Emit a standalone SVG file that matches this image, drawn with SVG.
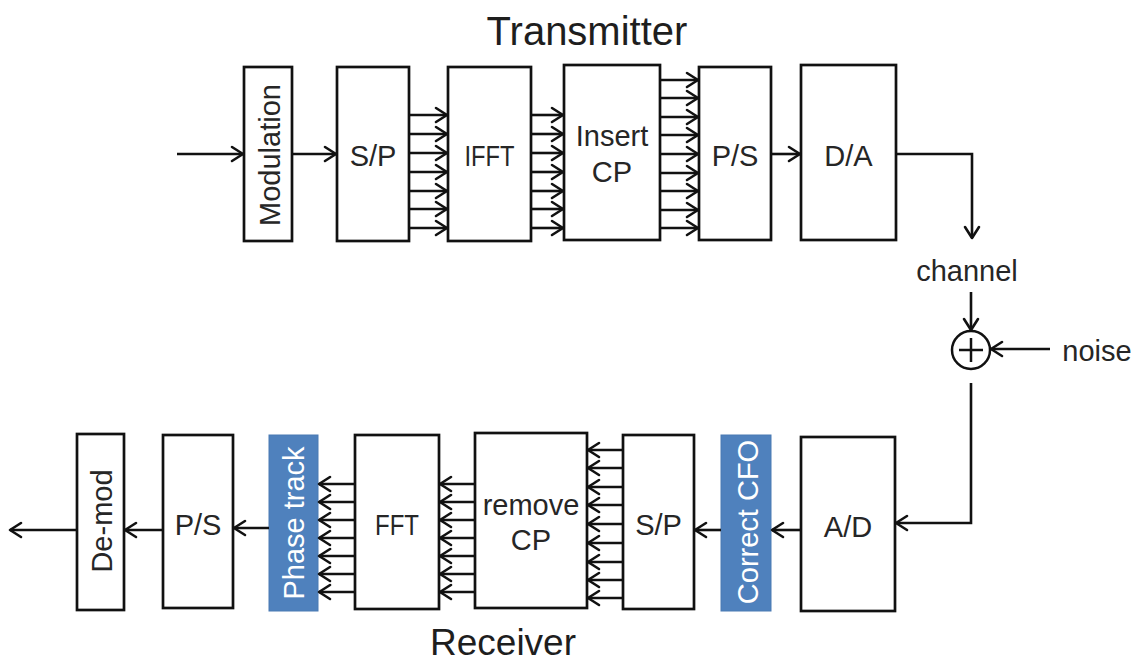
<svg xmlns="http://www.w3.org/2000/svg" width="1137" height="663" viewBox="0 0 1137 663">
<style>
.box{fill:#fff;stroke:#111;stroke-width:2.7}
.blue{fill:#4f81bd;stroke:#4a7ab3;stroke-width:1}
.lbl{font-family:"Liberation Sans",Arial,sans-serif;font-size:29px;fill:#262626;text-anchor:middle}
.wl{font-family:"Liberation Sans",Arial,sans-serif;font-size:29px;fill:#fff;text-anchor:middle}
.ttl{font-family:"Liberation Sans",Arial,sans-serif;fill:#1e1e1e;text-anchor:middle}
.ln{fill:none;stroke:#111;stroke-width:2.5}
.ar{fill:none;stroke:#111;stroke-width:2.6;marker-end:url(#ah)}
</style>
<defs>
<marker id="ah" viewBox="-14 -9 16 18" refX="0" refY="0" markerWidth="16" markerHeight="18" markerUnits="userSpaceOnUse" orient="auto">
<path d="M-11,-7 L0,0 L-11,7" fill="none" stroke="#111" stroke-width="2.6" stroke-linejoin="round" stroke-linecap="round"/>
</marker>
</defs>
<rect width="1137" height="663" fill="#fff"/>

<text class="ttl" x="587" y="45" font-size="40">Transmitter</text>
<text class="ttl" x="503" y="655" font-size="37">Receiver</text>

<!-- Transmitter nodes -->
<g id="modulation"><rect class="box" x="244" y="67" width="48" height="174"/><text class="lbl" transform="translate(280,155) rotate(-90)" x="0" y="0">Modulation</text></g>
<g id="tx-sp"><rect class="box" x="337" y="67" width="72" height="174"/><text class="lbl" x="373" y="166">S/P</text></g>
<g id="ifft"><rect class="box" x="448" y="67" width="83" height="174"/><text class="lbl" x="489.5" y="166" textLength="50" lengthAdjust="spacingAndGlyphs">IFFT</text></g>
<g id="insert-cp"><rect class="box" x="564" y="65" width="96" height="175"/><text class="lbl" x="612" y="146">Insert</text><text class="lbl" x="612" y="182">CP</text></g>
<g id="tx-ps"><rect class="box" x="699" y="67" width="72" height="173"/><text class="lbl" x="735" y="166">P/S</text></g>
<g id="da"><rect class="box" x="801" y="65" width="95" height="175"/><text class="lbl" x="848.5" y="166">D/A</text></g>

<!-- channel / noise -->
<g id="channel"><text class="lbl" x="967" y="281" font-size="29">channel</text></g>
<g id="adder"><circle cx="971" cy="350" r="19" fill="#fff" stroke="#111" stroke-width="2.5"/><path class="ln" d="M959,350 H983 M971,338 V362"/></g>
<g id="noise"><text class="lbl" x="1097" y="361" font-size="28">noise</text></g>

<!-- Receiver nodes -->
<g id="demod"><rect class="box" x="77" y="434" width="47" height="176"/><text class="lbl" transform="translate(112,521) rotate(-90)" x="0" y="0">De-mod</text></g>
<g id="rx-ps"><rect class="box" x="163" y="435" width="70" height="173"/><text class="lbl" x="198" y="535">P/S</text></g>
<g id="phase-track"><rect class="blue" x="269" y="435" width="49" height="176"/><text class="wl" transform="translate(304,523) rotate(-90)" x="0" y="0">Phase track</text></g>
<g id="fft"><rect class="box" x="355" y="435" width="84" height="174"/><text class="lbl" x="397" y="535" textLength="44" lengthAdjust="spacingAndGlyphs">FFT</text></g>
<g id="remove-cp"><rect class="box" x="475" y="433" width="112" height="175"/><text class="lbl" x="531" y="515">remove</text><text class="lbl" x="531" y="550">CP</text></g>
<g id="rx-sp"><rect class="box" x="623" y="435" width="71" height="174"/><text class="lbl" x="658.5" y="535">S/P</text></g>
<g id="correct-cfo"><rect class="blue" x="721" y="435" width="50" height="176"/><text class="wl" transform="translate(758,522) rotate(-90)" x="0" y="0">Correct CFO</text></g>
<g id="ad"><rect class="box" x="801" y="437" width="94" height="174"/><text class="lbl" x="848" y="537">A/D</text></g>

<!-- connectors -->
<g id="connectors">
<path class="ar" d="M177,154 H243"/>
<path class="ar" d="M292,154 H336"/>
<path class="ar" d="M409,115 H447"/>
<path class="ar" d="M409,134 H447"/>
<path class="ar" d="M409,153 H447"/>
<path class="ar" d="M409,172 H447"/>
<path class="ar" d="M409,191 H447"/>
<path class="ar" d="M409,209 H447"/>
<path class="ar" d="M409,228 H447"/>
<path class="ar" d="M531,115 H563"/>
<path class="ar" d="M531,134 H563"/>
<path class="ar" d="M531,153 H563"/>
<path class="ar" d="M531,172 H563"/>
<path class="ar" d="M531,191 H563"/>
<path class="ar" d="M531,209 H563"/>
<path class="ar" d="M531,228 H563"/>
<path class="ar" d="M660,80 H698"/>
<path class="ar" d="M660,98 H698"/>
<path class="ar" d="M660,117 H698"/>
<path class="ar" d="M660,135 H698"/>
<path class="ar" d="M660,154 H698"/>
<path class="ar" d="M660,173 H698"/>
<path class="ar" d="M660,191 H698"/>
<path class="ar" d="M660,210 H698"/>
<path class="ar" d="M660,228 H698"/>
<path class="ar" d="M771,154 H800"/>
<path class="ar" d="M896,154 H972 V238"/>
<path class="ar" d="M971,292 V330"/>
<path class="ar" d="M1050,349 H991"/>
<path class="ar" d="M971,383 V523 H896"/>
<path class="ar" d="M801,530 H772"/>
<path class="ar" d="M721,530 H695"/>
<path class="ar" d="M623,450 H588"/>
<path class="ar" d="M623,468 H588"/>
<path class="ar" d="M623,487 H588"/>
<path class="ar" d="M623,505 H588"/>
<path class="ar" d="M623,524 H588"/>
<path class="ar" d="M623,543 H588"/>
<path class="ar" d="M623,562 H588"/>
<path class="ar" d="M623,580 H588"/>
<path class="ar" d="M623,598 H588"/>
<path class="ar" d="M475,484 H440"/>
<path class="ar" d="M475,502 H440"/>
<path class="ar" d="M475,520 H440"/>
<path class="ar" d="M475,538 H440"/>
<path class="ar" d="M475,556 H440"/>
<path class="ar" d="M475,574 H440"/>
<path class="ar" d="M475,592 H440"/>
<path class="ar" d="M355,484 H319"/>
<path class="ar" d="M355,502 H319"/>
<path class="ar" d="M355,520 H319"/>
<path class="ar" d="M355,538 H319"/>
<path class="ar" d="M355,556 H319"/>
<path class="ar" d="M355,574 H319"/>
<path class="ar" d="M355,592 H319"/>
<path class="ar" d="M269,528 H234"/>
<path class="ar" d="M163,530 H125"/>
<path class="ar" d="M77,530 H10"/>
</g>
</svg>
